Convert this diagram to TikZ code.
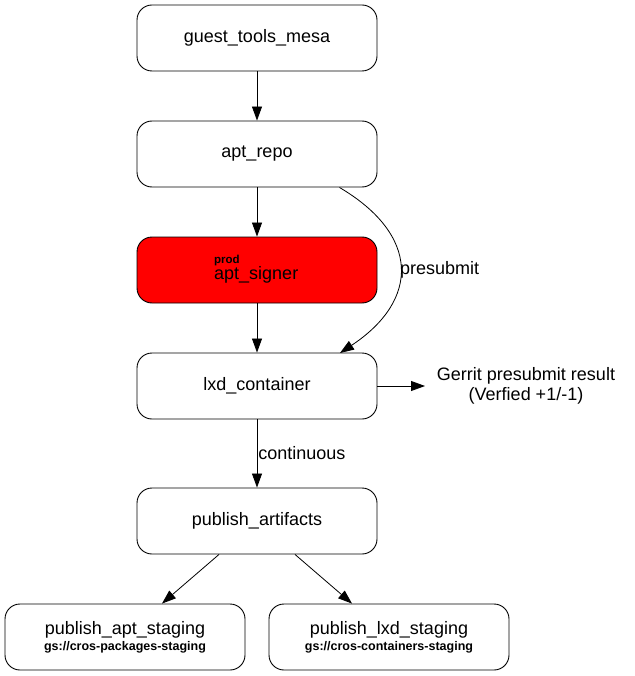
\documentclass[tikz,border=0pt]{standalone}
\usepackage{fontspec}
\setmainfont{Liberation Sans}
\usetikzlibrary{arrows.meta}

\tikzset{
  job/.style={draw, line width=0.9pt, rounded corners=15pt, minimum width=240pt, minimum height=66pt,
    font=\fontsize{18}{20}\selectfont, align=center, inner sep=0pt},
  edge/.style={line width=0.8pt, -{Triangle[length=14pt,width=10pt]}},
  lbl/.style={font=\fontsize{18}{20}\selectfont, inner sep=0pt}
}

\begin{document}
\begin{tikzpicture}[x=1pt,y=-1pt]
            \useasboundingbox (0,0) rectangle (634,676);
            \node[job] (mesa) at (257,38) {guest\_tools\_mesa};
            \node[job] (repo) at (257,154) {apt\_repo};
            \node[job, fill=red] (signer) at (257,270) {};
            \node[anchor=south west, inner sep=0pt, font=\fontsize{11.5}{12}\selectfont\bfseries] (prod) at (214,266) {prod};
            \node[anchor=north west, lbl] (signertxt) at (214,266) {apt\_signer};
            \node[job] (lxd) at (257,386) {lxd\_container};
            \node[job] (artifacts) at (257,521) {publish\_artifacts};
            \node[job] (aptstg) at (125,637) {publish\_apt\_staging\\[-4pt]{\fontsize{12.5}{13}\selectfont\bfseries gs://cros-packages-staging}};
            \node[job] (lxdstg) at (389,637) {publish\_lxd\_staging\\[-4pt]{\fontsize{12.5}{13}\selectfont\bfseries gs://cros-containers-staging}};
            \node[align=center, lbl] (gerrit) at (526,386) {Gerrit presubmit result\\(Verfied +1/-1)};
            % edges
            \draw[edge] (mesa) -- (repo);
            \draw[edge] (repo) -- (signer);
            \draw[edge] (signer) -- (lxd);
            \draw[edge] (repo.south east) ++(-38,0) coordinate (c1)
              .. controls (420,235) and (420,300) .. (340,353) coordinate (c2);
            \node[anchor=west, lbl] (presub) at (400,270) {presubmit};
            \draw[edge] (lxd) -- (gerrit.west -| 425,386);
            \draw[edge] (lxd) -- node[right, lbl, inner sep=1pt] (cont) {continuous} (artifacts);
            \draw[edge] (artifacts.south) ++(-38,0) coordinate (a1) -- (aptstg.north -| 162,604);
            \draw[edge] (artifacts.south) ++(38,0) coordinate (a2) -- (lxdstg.north -| 352,604);
        \end{tikzpicture}
\end{document}
